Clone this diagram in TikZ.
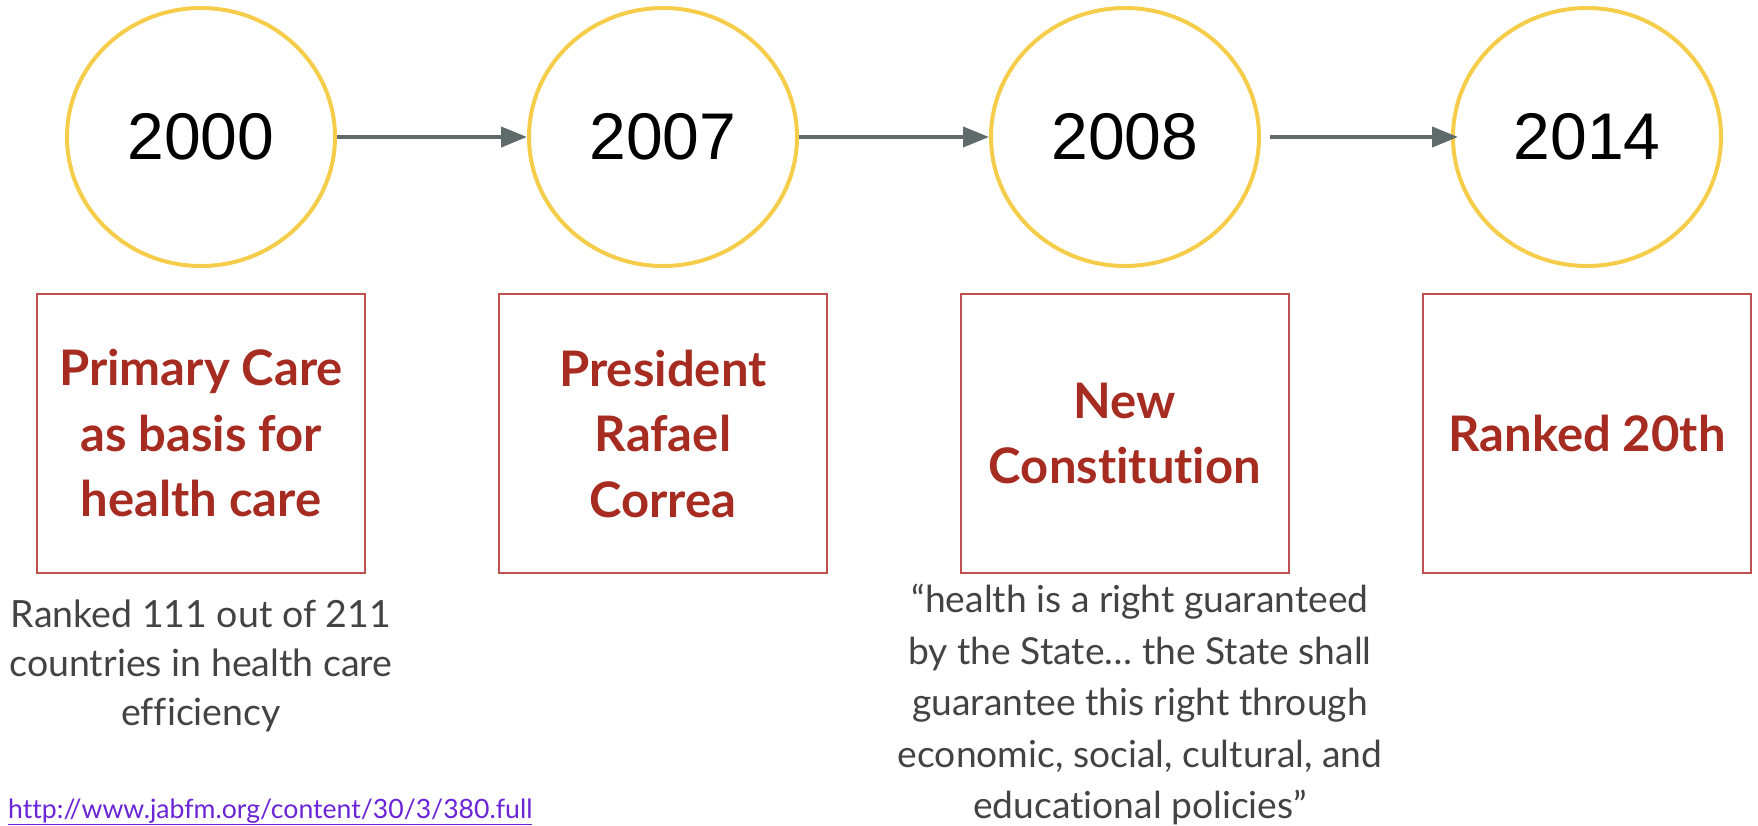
\documentclass[tikz,border=0pt]{standalone}
\usepackage{fontspec}
\setmainfont{Lato}[Ligatures=NoCommon]
\newfontfamily\yearfont{Liberation Sans}
\usetikzlibrary{arrows.meta,shapes.geometric}

\definecolor{ringyellow}{HTML}{F6CD4B}
\definecolor{boxred}{HTML}{C0504F}
\definecolor{titlered}{HTML}{A62B20}
\definecolor{arrowgray}{HTML}{5F6B6B}
\definecolor{notegray}{HTML}{434343}
\definecolor{linkviolet}{HTML}{6B24D6}

\begin{document}
\begin{tikzpicture}[x=1pt,y=-1pt,
  yearring/.style={ellipse, draw=ringyellow, line width=4pt, inner sep=0pt,
    minimum width=268pt, minimum height=258pt,
    font=\yearfont\fontsize{66}{79}\selectfont, text=black},
  eventbox/.style={rectangle, draw=boxred, line width=2pt, inner sep=0pt,
    minimum width=328pt, minimum height=279pt, align=center,
    font=\bfseries\fontsize{49}{65.5}\selectfont, text=titlered},
  note/.style={align=center, inner sep=0pt, text=notegray},
  flow/.style={draw=arrowgray, line width=4pt,
    -{Triangle[length=26pt,width=20pt]}}
]
\useasboundingbox (0,0) rectangle (1758,825);

% year rings
\node[yearring] (y2000) at (201,137) {2000};
\node[yearring] (y2007) at (663,137) {2007};
\node[yearring] (y2008) at (1125,137) {2008};
\node[yearring] (y2014) at (1587,137) {2014};

% timeline arrows
\draw[flow] (y2000.east) -- (y2007.west);
\draw[flow] (y2007.east) -- (y2008.west);
\draw[flow, shorten <=9pt, shorten >=-7pt] (y2008.east) -- (y2014.west);

% event boxes
\node[eventbox] (e2000) at (201,433.5) {Primary Care\\as basis for\\health care};
\node[eventbox] (e2007) at (663,433.5) {President\\Rafael\\Correa};
\node[eventbox] (e2008) at (1125,433.5) {New\\Constitution};
\node[eventbox] (e2014) at (1587,433.5) {Ranked 20th};

% notes under the boxes
\node[note, font=\fontsize{37.5}{49}\selectfont] (n2000) at (201,666)
  {Ranked 111 out of 211\\countries in health care\\efficiency};
\node[note, font=\fontsize{37.2}{51.5}\selectfont] (n2008) at (1140,704.5)
  {“health is a right guaranteed\\by the State… the State shall\\guarantee this right through\\economic, social, cultural, and\\educational policies”};

% source link
\node[anchor=base west, inner sep=0pt, text=linkviolet,
  font=\fontsize{26.6}{31}\selectfont] (src) at (8,818)
  {\underline{http://www.jabfm.org/content/30/3/380.full}};
\end{tikzpicture}
\end{document}
